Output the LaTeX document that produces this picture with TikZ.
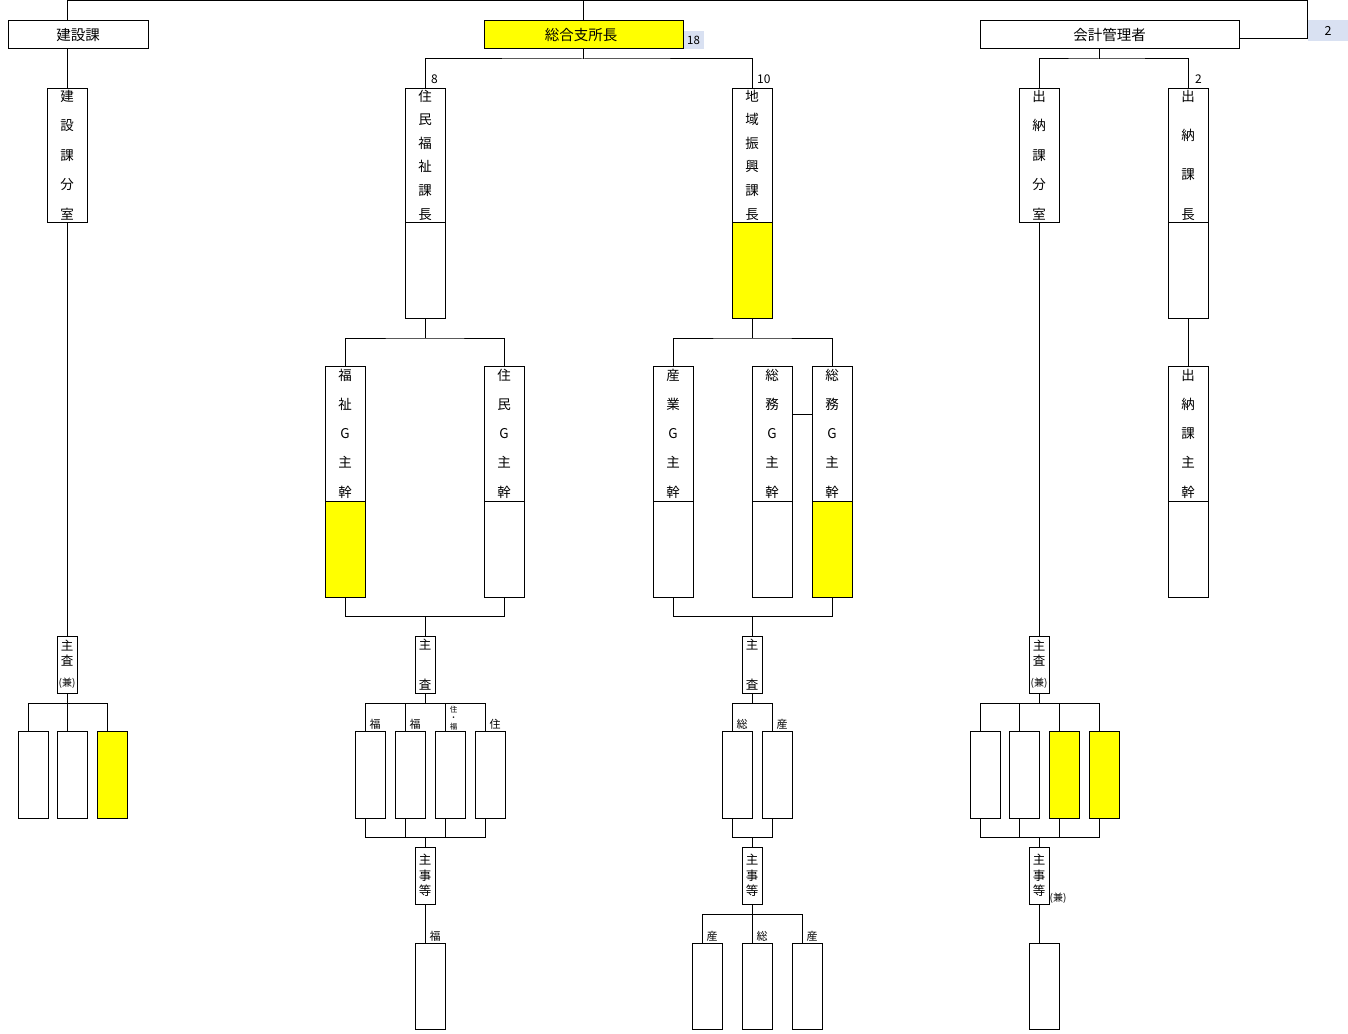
\documentclass[tikz,border=0pt]{standalone}
\usepackage{fontspec}
\setmainfont{Noto Sans CJK JP}
\usetikzlibrary{calc}
\definecolor{yel}{HTML}{FFFF00}
\definecolor{lblue}{HTML}{D9E1F2}
\begin{document}
\begin{tikzpicture}[x=1pt, y=-1pt,
  ln/.style={line width=1pt},
  box/.style={draw, line width=1pt, inner sep=0pt, outer sep=0pt, fill=white},
  hfont/.style={font=\fontsize{14.5}{16}\selectfont},
  vt/.style={font=\fontsize{13.5}{#1}\selectfont, align=center},
  upbox/.style={box, minimum width=40pt, minimum height=134pt},
  gbox/.style={box, minimum width=40pt, minimum height=135pt},
  lowbox/.style={box, minimum width=40pt, minimum height=96pt, anchor=north},
  sabox/.style={box, minimum width=20pt, minimum height=57pt},
  smbox/.style={box, minimum width=30pt, minimum height=87pt, anchor=north west},
  tag/.style={fill=lblue, inner sep=0pt, outer sep=0pt, font=\fontsize{11.5}{12}\selectfont},
  num/.style={inner sep=0pt, font=\fontsize{12}{13}\selectfont, anchor=south west},
  sl/.style={inner sep=0pt, font=\fontsize{11}{12}\selectfont, anchor=south}
]
\useasboundingbox (0,0) rectangle (1348,1033);

% ---------- level 0
\node[box, minimum width=140pt, minimum height=28pt, hfont] (kensetsu) at (78,35) {建設課};
\node[box, fill=yel, minimum width=199pt, minimum height=28pt, hfont] (sogo) at (583.5,35) {総合支所長\hspace*{5pt}};
\node[tag, minimum width=20pt, minimum height=18pt, anchor=south west] (n18) at ($(sogo.south east)+(0.5,0)$) {18};
\node[box, minimum width=259pt, minimum height=28pt, hfont] (kaikei) at (1109.5,35) {会計管理者};
\node[tag, minimum width=40pt, minimum height=21pt, anchor=north west, font=\fontsize{12.5}{13}\selectfont] (n2) at (1308,20) {2};

% ---------- level 1
\node[upbox, vt=29.5] (kbun) at (67,155) {建\\設\\課\\分\\室};
\node[upbox, vt=23.6] (jm1) at (425,155) {住\\民\\福\\祉\\課\\長};
\node[lowbox] (jm2) at (jm1.south) {};
\node[upbox, vt=23.6] (ch1) at (752,155) {地\\域\\振\\興\\課\\長};
\node[lowbox, fill=yel] (ch2) at (ch1.south) {};
\node[upbox, vt=29.5] (sbun) at (1039,155) {出\\納\\課\\分\\室};
\node[upbox, vt=39.3] (sk1) at (1188,155) {出\\納\\課\\長};
\node[lowbox] (sk2) at (sk1.south) {};

% ---------- level 2
\node[gbox, vt=29.25] (fkA) at (345,433.5) {福\\祉\\G\\主\\幹};
\node[lowbox, fill=yel] (fkB) at (fkA.south) {};
\node[gbox, vt=29.25] (jgA) at (504,433.5) {住\\民\\G\\主\\幹};
\node[lowbox] (jgB) at (jgA.south) {};
\node[gbox, vt=29.25] (sgA) at (673,433.5) {産\\業\\G\\主\\幹};
\node[lowbox] (sgB) at (sgA.south) {};
\node[gbox, vt=29.25] (so1A) at (772,433.5) {総\\務\\G\\主\\幹};
\node[lowbox] (so1B) at (so1A.south) {};
\node[gbox, vt=29.25] (so2A) at (832,433.5) {総\\務\\G\\主\\幹};
\node[lowbox, fill=yel] (so2B) at (so2A.south) {};
\node[gbox, vt=29.25] (ssA) at (1188,433.5) {出\\納\\課\\主\\幹};
\node[lowbox] (ssB) at (ssA.south) {};

% ---------- level 3 (主査)
\node[sabox, font=\fontsize{12.5}{15}\selectfont, align=center] (ksa) at (67,664.5) {主\\査\\[6pt]{\fontsize{10}{11}\selectfont(兼)}};
\node[sabox, font=\fontsize{12.5}{40}\selectfont, align=center] (jsa) at (425,664.5) {主\\査};
\node[sabox, font=\fontsize{12.5}{40}\selectfont, align=center] (csa) at (752,664.5) {主\\査};
\node[sabox, font=\fontsize{12.5}{15}\selectfont, align=center] (rsa) at (1039,664.5) {主\\査\\[6pt]{\fontsize{10}{11}\selectfont(兼)}};

% ---------- level 4 small boxes
\node[smbox] (kb1) at (18,731) {};
\node[smbox] (kb2) at (57,731) {};
\node[smbox, fill=yel] (kb3) at (97,731) {};
\node[smbox] (jb1) at (355,731) {};
\node[smbox] (jb2) at (395,731) {};
\node[smbox] (jb3) at (435,731) {};
\node[smbox] (jb4) at (475,731) {};
\node[smbox] (cb1) at (722,731) {};
\node[smbox] (cb2) at (762,731) {};
\node[smbox] (rb1) at (970,731) {};
\node[smbox] (rb2) at (1009,731) {};
\node[smbox, fill=yel] (rb3) at (1049,731) {};
\node[smbox, fill=yel] (rb4) at (1089,731) {};

% ---------- level 5 (主事等)
\node[sabox, font=\fontsize{12.5}{15.5}\selectfont, align=center] (jsj) at (425,875.5) {主\\事\\等};
\node[sabox, font=\fontsize{12.5}{15.5}\selectfont, align=center] (csj) at (752,875.5) {主\\事\\等};
\node[sabox, font=\fontsize{12.5}{15.5}\selectfont, align=center] (rsj) at (1039,875.5) {主\\事\\等};
\node[inner sep=0.5pt, anchor=south west, font=\fontsize{10}{11}\selectfont] (rk) at (rsj.south east) {(兼)};

% ---------- level 6 small boxes
\node[smbox, minimum height=86pt] (jf) at (415,943) {};
\node[smbox, minimum height=86pt] (cf1) at (692,943) {};
\node[smbox, minimum height=86pt] (cf2) at (742,943) {};
\node[smbox, minimum height=86pt] (cf3) at (792,943) {};
\node[smbox, minimum height=86pt] (rf) at (1029,943) {};

% connection points of small boxes
\foreach \n in {kb1,kb2,kb3,jb1,jb2,jb3,jb4,cb1,cb2,rb1,rb2,rb3,rb4,jf,cf1,cf2,cf3,rf}{
  \coordinate (\n t) at ($(\n.north west)+(10,0)$);
  \coordinate (\n b) at ($(\n.south west)+(10,0)$);
}

% ---------- labels
\node[num] (l8) at ($(jm1.north)+(6,-4)$) {8};
\node[num] (l10) at ($(ch1.north)+(5,-4)$) {10};
\node[num] (l2) at ($(sk1.north)+(7,-4)$) {2};
\node[sl] (ljb1) at ($(jb1.north)+(5,-1)$) {福};
\node[sl] (ljb2) at ($(jb2.north)+(5,-1)$) {福};
\node[sl, font=\fontsize{7.5}{8.75}\selectfont, align=center] (ljb3) at ($(jb3.north)+(3.5,-0.5)$) {住\\・\\福};
\node[sl] (ljb4) at ($(jb4.north)+(5,-1)$) {住};
\node[sl] (lcb1) at ($(cb1.north)+(5,-1)$) {総};
\node[sl] (lcb2) at ($(cb2.north)+(5,-1)$) {産};
\node[sl] (ljf) at ($(jf.north)+(5,-1)$) {福};
\node[sl] (lcf1) at ($(cf1.north)+(5,-1)$) {産};
\node[sl] (lcf2) at ($(cf2.north)+(5,-1)$) {総};
\node[sl] (lcf3) at ($(cf3.north)+(5,-1)$) {産};

% ---------- connectors
\coordinate (tl) at (67,1);
\coordinate (tr) at (1307,1);
\coordinate (kr) at ($(kaikei.south east)+(0,-10)$);
\coordinate (kc) at (1099,59);
\coordinate (sc) at (583,59);
\coordinate (sol) at (0,414);

\draw[ln] (kensetsu.north -| kbun.north) -- (tl) -- (tr) |- (kr);
\draw[ln] (sogo.north -| sc) -- (sc |- tl);
\draw[ln] (kensetsu.south -| kbun.north) -- (kbun.north);
\draw[ln] (sogo.south -| sc) -- (sc);
\draw[ln] (jm1.north) |- (sc) -| (ch1.north);
\draw[ln] (kaikei.south -| kc) -- (kc);
\draw[ln] (sbun.north) |- (kc) -| (sk1.north);

\draw[ln] (kbun.south) -- (ksa.north);
\draw[ln] (sbun.south) -- (rsa.north);
\draw[ln] (jm2.south) -- ++(0,20) coordinate (jmb);
\draw[ln] (fkA.north) |- (jmb) -| (jgA.north);
\draw[ln] (ch2.south) -- ++(0,20) coordinate (chb);
\draw[ln] (sgA.north) |- (chb) -| (so2A.north);
\draw[ln] (sk2.south) -- (ssA.north);
\draw[ln] (so1A.east |- sol) -- (so2A.west |- sol);

\draw[ln] (fkB.south) -- ++(0,19) coordinate (fkb) -| (jgB.south);
\draw[ln] (jsa.north) -- (jsa.north |- fkb);
\draw[ln] (sgB.south) -- ++(0,19) coordinate (sgb) -| (so2B.south);
\draw[ln] (csa.north) -- (csa.north |- sgb);

% 主査 -> small boxes
\draw[ln] (ksa.south) -- ++(0,10) coordinate (kbar);
\draw[ln] (kb1t) |- (kbar) -| (kb3t);
\draw[ln] (kbar) -- (kb2t);

\draw[ln] (jsa.south) -- ++(0,10) coordinate (jbar);
\draw[ln] (jb1t) |- (jbar) -| (jb4t);
\draw[ln] (jb2t) -- (jb2t |- jbar);
\draw[ln] (jb3t) -- (jb3t |- jbar);
\draw[ln] (jb1b) -- ++(0,19) coordinate (jbb) -| (jb4b);
\draw[ln] (jb2b) -- (jb2b |- jbb);
\draw[ln] (jb3b) -- (jb3b |- jbb);
\draw[ln] (jsj.north) -- (jsj.north |- jbb);

\draw[ln] (csa.south) -- ++(0,10) coordinate (cbar);
\draw[ln] (cb1t) |- (cbar) -| (cb2t);
\draw[ln] (cb1b) -- ++(0,19) coordinate (cbb) -| (cb2b);
\draw[ln] (csj.north) -- (csj.north |- cbb);

\draw[ln] (rsa.south) -- ++(0,10) coordinate (rbar);
\draw[ln] (rb1t) |- (rbar) -| (rb4t);
\draw[ln] (rb2t) -- (rb2t |- rbar);
\draw[ln] (rb3t) -- (rb3t |- rbar);
\draw[ln] (rb1b) -- ++(0,19) coordinate (rbb) -| (rb4b);
\draw[ln] (rb2b) -- (rb2b |- rbb);
\draw[ln] (rb3b) -- (rb3b |- rbb);
\draw[ln] (rsj.north) -- (rsj.north |- rbb);

% 主事等 -> bottom boxes
\draw[ln] (jsj.south) -- (jft);
\draw[ln] (csj.south) -- ++(0,10) coordinate (cfb);
\draw[ln] (cf1t) |- (cfb) -| (cf3t);
\draw[ln] (cfb) -- (cf2t);
\draw[ln] (rsj.south) -- (rft);
\end{tikzpicture}
\end{document}
